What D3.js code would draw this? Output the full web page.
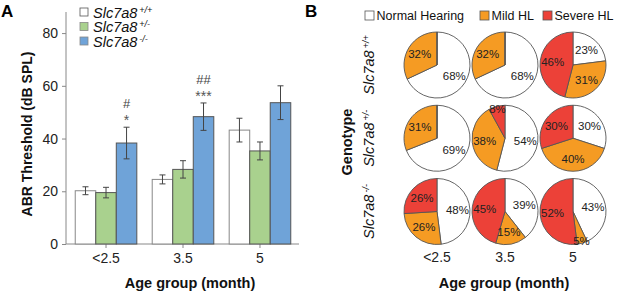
<!DOCTYPE html>
<html>
<head>
<meta charset="utf-8">
<script src="https://cdn.jsdelivr.net/npm/d3@7"></script>
<style>
  body { margin: 0; background: #fff; }
  svg { font-family: "Liberation Sans", Arial, sans-serif; }
</style>
</head>
<body>
<div id="chart"></div>
<script>
// Panel A data
const ageGroups = ["<2.5", "3.5", "5"];
const genotypes = ["+/+", "+/-", "-/-"];
const meanWT  = [20.2, 24.5, 43.2];
const meanHet = [19.5, 28.3, 35.3];
const meanKO  = [38.3, 48.3, 53.6];
const errWT   = [1.5, 1.7, 4.5];
const errHet  = [2.0, 3.3, 3.4];
const errKO   = [6.0, 5.2, 6.4];
const sigHash = ["#", "##", ""];
const sigStar = ["*", "***", ""];
const yTicks = [0, 20, 40, 60, 80];

// Panel B data (percent normal, mild, severe) per genotype row, age column
const hearingClasses = ["Normal Hearing", "Mild HL", "Severe HL"];
const pieWT  = [[68, 32, 0], [68, 32, 0], [23, 31, 46]];
const pieHet = [[69, 31, 0], [54, 38, 8], [30, 40, 30]];
const pieKO  = [[48, 26, 26], [39, 15, 45], [43, 5, 52]];

const barColors = ["#ffffff", "#a9d18e", "#6fa3d8"];
const pieColors = ["#ffffff", "#f59b23", "#ec4138"];

const W = 617, H = 294;
const svg = d3.select("#chart").append("svg")
    .attr("width", W).attr("height", H);

// ---------- Panel A ----------
const means = [meanWT, meanHet, meanKO];
const errs = [errWT, errHet, errKO];

const x = d3.scaleBand().domain(ageGroups).range([67, 299])
    .paddingInner(0.2).paddingOuter(0.107);
const xSub = d3.scaleBand().domain(genotypes).range([0, x.bandwidth()]);
const y = d3.scaleLinear().domain([0, 88]).range([244, 12]);

const gA = svg.append("g");

// y axis
const yAxis = gA.append("g")
    .attr("transform", "translate(66,0)")
    .call(d3.axisLeft(y).tickValues(yTicks).tickSize(4).tickPadding(4));
yAxis.select(".domain").attr("stroke", "#888").attr("d", `M0,${y(88)}V${y(0)}`);
yAxis.selectAll(".tick line").attr("stroke", "#888");
yAxis.selectAll(".tick text").attr("font-size", 14).attr("fill", "#222")
    .attr("font-family", "Liberation Sans, Arial, sans-serif");

// x axis
const xAxis = gA.append("g")
    .attr("transform", `translate(0,${y(0)})`)
    .call(d3.axisBottom(x).tickSize(4).tickPadding(5));
xAxis.select(".domain").attr("stroke", "#888").attr("d", `M66,0H299`);
xAxis.selectAll(".tick line").attr("stroke", "#888");
xAxis.selectAll(".tick text").attr("font-size", 14).attr("fill", "#222")
    .attr("font-family", "Liberation Sans, Arial, sans-serif");

// bars
const barData = [];
ageGroups.forEach((a, i) => {
  genotypes.forEach((g, j) => {
    barData.push({ age: a, geno: g, j, mean: means[j][i], err: errs[j][i] });
  });
});

gA.selectAll(".bar").data(barData).enter().append("rect")
    .attr("x", d => x(d.age) + xSub(d.geno))
    .attr("y", d => y(d.mean))
    .attr("width", xSub.bandwidth())
    .attr("height", d => y(0) - y(d.mean))
    .attr("fill", d => barColors[d.j])
    .attr("stroke", d => d.j === 0 ? "#888" : "#555")
    .attr("stroke-width", 1);

// error bars
const eb = gA.selectAll(".err").data(barData).enter().append("g")
    .attr("stroke", "#444").attr("stroke-width", 1);
const cx = d => x(d.age) + xSub(d.geno) + xSub.bandwidth() / 2;
eb.append("line")
    .attr("x1", cx).attr("x2", cx)
    .attr("y1", d => y(d.mean - d.err)).attr("y2", d => y(d.mean + d.err));
eb.append("line")
    .attr("x1", d => cx(d) - 3).attr("x2", d => cx(d) + 3)
    .attr("y1", d => y(d.mean + d.err)).attr("y2", d => y(d.mean + d.err));
eb.append("line")
    .attr("x1", d => cx(d) - 3).attr("x2", d => cx(d) + 3)
    .attr("y1", d => y(d.mean - d.err)).attr("y2", d => y(d.mean - d.err));

// significance marks above knockout bars
ageGroups.forEach((a, i) => {
  const px = x(a) + xSub("-/-") + xSub.bandwidth() / 2;
  const top = y(meanKO[i] + errKO[i]);
  gA.append("text").attr("x", px).attr("y", top - 2)
      .attr("text-anchor", "middle").attr("font-size", 14).attr("fill", "#555")
      .text(sigStar[i]);
  gA.append("text").attr("x", px).attr("y", top - 19)
      .attr("text-anchor", "middle").attr("font-size", 13).attr("fill", "#444")
      .text(sigHash[i]);
});

// axis titles
gA.append("text")
    .attr("transform", "translate(32,134) rotate(-90)")
    .attr("text-anchor", "middle").attr("font-size", 14).attr("font-weight", "bold")
    .attr("fill", "#111")
    .text("ABR Threshold (dB SPL)");
gA.append("text")
    .attr("x", 190).attr("y", 288)
    .attr("text-anchor", "middle").attr("font-size", 14.5).attr("font-weight", "bold")
    .attr("fill", "#111")
    .text("Age group (month)");

// panel label
svg.append("text").attr("x", 1).attr("y", 17)
    .attr("font-size", 17).attr("font-weight", "bold").text("A");

// legend A
const legA = gA.selectAll(".legA").data(genotypes).enter().append("g")
    .attr("transform", (d, i) => `translate(80,${12 + i * 14.5})`);
legA.append("rect").attr("x", 0).attr("y", -4).attr("width", 8).attr("height", 8)
    .attr("fill", (d, i) => barColors[i])
    .attr("stroke", (d, i) => i === 0 ? "#555" : "#888").attr("stroke-width", 0.8);
const legAText = legA.append("text").attr("x", 13).attr("y", 5.5)
    .attr("font-size", 14.5).attr("font-style", "italic").attr("fill", "#111");
legAText.append("tspan").text("Slc7a8");
legAText.append("tspan").attr("dx", 2).attr("dy", -5).attr("font-size", 9).text(d => d);

// ---------- Panel B ----------
svg.append("text").attr("x", 305).attr("y", 17)
    .attr("font-size", 17).attr("font-weight", "bold").text("B");

const legX = [365, 480, 543];
const legB = svg.selectAll(".legB").data(hearingClasses).enter().append("g")
    .attr("transform", (d, i) => `translate(${legX[i]},15.5)`);
legB.append("rect").attr("x", 0).attr("y", -4.5).attr("width", 9).attr("height", 9)
    .attr("fill", (d, i) => pieColors[i]).attr("stroke", "#555").attr("stroke-width", 0.8);
legB.append("text").attr("x", 11.5).attr("y", 4.5).attr("font-size", 12.5)
    .attr("fill", "#111").text(d => d);

const colX = d3.scalePoint().domain(ageGroups).range([437, 573]);
const rowY = d3.scalePoint().domain(genotypes).range([65, 211.5]);
const R = 33;
const pie = d3.pie().sort(null).value(d => d);
const arc = d3.arc().innerRadius(0).outerRadius(R);
const pieRows = [pieWT, pieHet, pieKO];

genotypes.forEach((g, r) => {
  ageGroups.forEach((a, c) => {
    const gp = svg.append("g")
        .attr("transform", `translate(${colX(a)},${rowY(g)})`);
    const arcs = pie(pieRows[r][c]);
    gp.selectAll("path").data(arcs).enter().append("path")
        .attr("d", arc)
        .attr("fill", (d, i) => pieColors[i])
        .attr("stroke", "#555").attr("stroke-width", 0.9);
    gp.selectAll("text").data(arcs.filter(d => d.data > 0)).enter().append("text")
        .attr("transform", d => {
          const lr = d.data < 10 ? R * 0.92 : R * 0.62;
          const ang = (d.startAngle + d.endAngle) / 2;
          return `translate(${Math.sin(ang) * lr},${-Math.cos(ang) * lr})`;
        })
        .attr("text-anchor", "middle").attr("dy", "0.35em")
        .attr("font-size", 11.5).attr("fill", "#222")
        .text(d => d.data + "%");
  });
});

// row labels (genotype)
genotypes.forEach(g => {
  const t = svg.append("text")
      .attr("transform", `translate(374,${rowY(g)}) rotate(-90)`)
      .attr("text-anchor", "middle").attr("font-size", 14.5)
      .attr("font-style", "italic").attr("fill", "#111");
  t.append("tspan").text("Slc7a8");
  t.append("tspan").attr("dx", 2).attr("dy", -5).attr("font-size", 9).text(g);
});
svg.append("text")
    .attr("transform", "translate(352,142) rotate(-90)")
    .attr("text-anchor", "middle").attr("font-size", 14.5).attr("font-weight", "bold")
    .attr("fill", "#111").text("Genotype");

// column labels
svg.selectAll(".colLab").data(ageGroups).enter().append("text")
    .attr("x", d => colX(d)).attr("y", 262)
    .attr("text-anchor", "middle").attr("font-size", 14).attr("fill", "#222")
    .text(d => d);
svg.append("text")
    .attr("x", 504).attr("y", 288)
    .attr("text-anchor", "middle").attr("font-size", 14.5).attr("font-weight", "bold")
    .attr("fill", "#111").text("Age group (month)");
</script>
</body>
</html>
